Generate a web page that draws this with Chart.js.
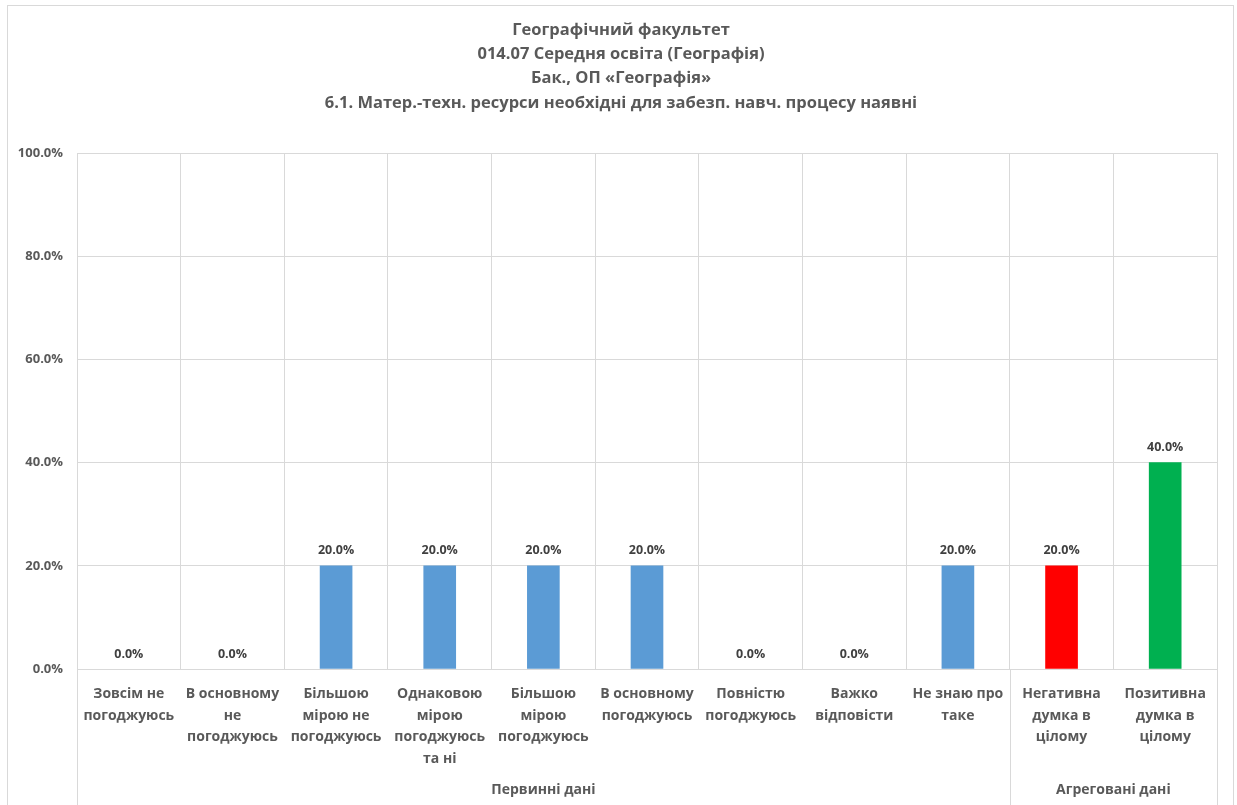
<!DOCTYPE html>
<html>
<head>
<meta charset="utf-8">
<script src="https://cdn.jsdelivr.net/npm/chart.js@4"></script>
<style>
  html, body { margin: 0; padding: 0; background: #fff; }
  #wrap { width: 1237px; height: 805px; position: relative; }
</style>
</head>
<body>
<div id="wrap"><canvas id="chart"></canvas></div>
<script>
// --- data ---
const categories = [
  ["Зовсім не", "погоджуюсь"],
  ["В основному", "не", "погоджуюсь"],
  ["Більшою", "мірою не", "погоджуюсь"],
  ["Однаковою", "мірою", "погоджуюсь", "та ні"],
  ["Більшою", "мірою", "погоджуюсь"],
  ["В основному", "погоджуюсь"],
  ["Повністю", "погоджуюсь"],
  ["Важко", "відповісти"],
  ["Не знаю про", "таке"],
  ["Негативна", "думка в", "цілому"],
  ["Позитивна", "думка в", "цілому"]
];
const values = [0, 0, 20, 20, 20, 20, 0, 0, 20, 20, 40];
const barColors = ["#5B9BD5", "#5B9BD5", "#5B9BD5", "#5B9BD5", "#5B9BD5", "#5B9BD5",
                   "#5B9BD5", "#5B9BD5", "#5B9BD5", "#FF0000", "#00B050"];
const groups = ["Первинні дані", "Агреговані дані"];
const groupSizes = [9, 2];
const titleLines = [
  "Географічний факультет",
  "014.07 Середня освіта (Географія)",
  "Бак., ОП «Географія»",
  "6.1. Матер.-техн. ресурси необхідні для забезп. навч. процесу наявні"
];

const FONT = "'Open Sans', 'Noto Sans', sans-serif";
const TEXT = "#595959";
const GRID = "#D9D9D9";

// border + title (centred on the whole chart box, like Excel), group labels, value labels
const extras = {
  id: "extras",
  beforeDraw(chart) {
    const c = chart.ctx;
    c.save();
    c.strokeStyle = GRID;
    c.lineWidth = 1;
    c.strokeRect(7.5, 5.5, 1226, 805);
    c.fillStyle = TEXT;
    c.font = "bold 16.5px " + FONT;
    c.textAlign = "center";
    c.textBaseline = "middle";
    titleLines.forEach((t, i) => c.fillText(t, 621, 30 + i * 24.3));
    c.restore();
  },
  afterDraw(chart) {
    const c = chart.ctx;
    const area = chart.chartArea;
    const step = (area.right - area.left) / categories.length;
    c.save();
    c.strokeStyle = GRID;
    c.lineWidth = 1;
    let start = 0;
    const edges = [0];
    groupSizes.forEach(n => { start += n; edges.push(start); });
    edges.forEach(e => {
      const px = Math.round(area.left + e * step) + 0.5;
      c.beginPath();
      c.moveTo(px, area.bottom);
      c.lineTo(px, chart.height);
      c.stroke();
    });
    c.fillStyle = TEXT;
    c.font = "bold 14px " + FONT;
    c.textAlign = "center";
    c.textBaseline = "middle";
    groups.forEach((g, i) => {
      const cx = area.left + (edges[i] + edges[i + 1]) / 2 * step;
      c.fillText(g, cx, 790);
    });
    // value labels above bars
    const meta = chart.getDatasetMeta(0);
    c.fillStyle = "#404040";
    c.font = "bold 12.5px " + FONT;
    meta.data.forEach((bar, i) => {
      c.fillText(values[i].toFixed(1) + "%", bar.x, bar.y - 15);
    });
    c.restore();
  }
};

new Chart(document.getElementById("chart"), {
  type: "bar",
  data: {
    labels: categories,
    datasets: [{
      data: values,
      backgroundColor: ctx => ctx.raw === 0 ? "rgba(0,0,0,0)" : barColors[ctx.dataIndex],
      barThickness: 32
    }]
  },
  options: {
    responsive: true,
    maintainAspectRatio: false,
    animation: false,
    layout: { padding: { left: 0, right: 20, top: 153, bottom: 0 } },
    plugins: {
      legend: { display: false },
      tooltip: { enabled: false },
      title: { display: false }
    },
    scales: {
      x: {
        offset: true,
        grid: { offset: true, color: GRID, drawTicks: false },
        border: { color: GRID },
        ticks: {
          autoSkip: false,
          maxRotation: 0,
          padding: 14,
          color: TEXT,
          font: { family: FONT, size: 14, weight: "bold", lineHeight: 1.55 }
        },
        afterFit(scale) { scale.height = 136; }
      },
      y: {
        min: 0,
        max: 100,
        grid: { color: GRID, drawTicks: false },
        border: { display: false },
        ticks: {
          stepSize: 20,
          padding: 14,
          color: TEXT,
          font: { family: FONT, size: 13, weight: "bold" },
          callback: v => v.toFixed(1) + "%"
        },
        afterFit(scale) { scale.width = 77; }
      }
    }
  },
  plugins: [extras]
});
</script>
</body>
</html>
